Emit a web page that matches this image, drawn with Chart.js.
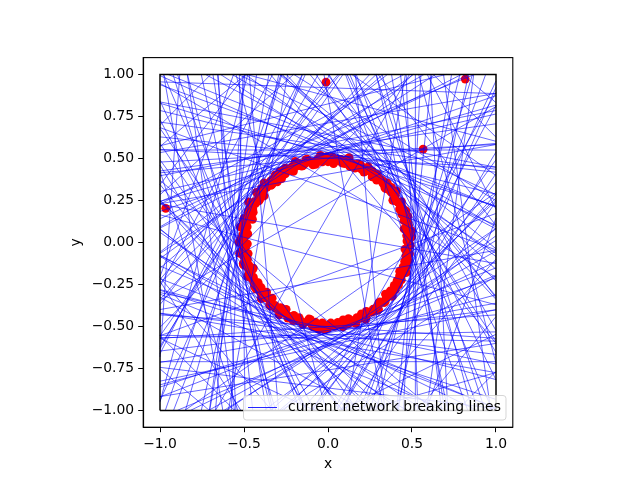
<!DOCTYPE html>
<html><head><meta charset="utf-8">
<script src="https://cdn.jsdelivr.net/npm/chart.js@4/dist/chart.umd.min.js"></script>
<style>html,body{margin:0;padding:0;background:#fff}</style>
</head><body>
<canvas id="c" width="640" height="480"></canvas>
<script>
// ---- tick labels ----
const xTicks = [-1, -0.5, 0, 0.5, 1];
const xTickLabels = ['−1.0', '−0.5', '0.0', '0.5', '1.0'];
const yTicks = [-1, -0.75, -0.5, -0.25, 0, 0.25, 0.5, 0.75, 1];
const yTickLabels = ['−1.00', '−0.75', '−0.50', '−0.25', '0.00', '0.25', '0.50', '0.75', '1.00'];

// ---- bounding square ----
const boxX = [-1, 1, 1, -1, -1];
const boxY = [-1, -1, 1, 1, -1];

// ---- isolated network nodes ----
const outlierX = [-0.966, -0.012, 0.566, 0.817];
const outlierY = [0.203, 0.954, 0.555, 0.972];

// ---- ring of network nodes (polar: angle in degrees, radius) ----
const ringAngle = [0,3,5,8,11,14,16,19,22,25,27,30,33,36,38,41,44,47,50,52,55,58,61,63,66,69,72,74,77,80,83,86,88,91,94,97,99,102,105,108,110,113,116,119,122,124,127,130,133,135,138,141,144,146,149,152,155,158,160,163,166,169,171,174,177,180,183,185,188,191,194,196,199,202,205,208,210,213,216,219,221,224,227,230,232,235,238,241,244,246,249,252,255,257,260,263,266,268,271,274,277,280,282,285,288,291,293,296,299,302,304,307,310,313,316,318,321,324,327,329,332,335,338,340,343,346,349,352,354,357];
const ringRadius = [0.48,0.49,0.47,0.50,0.48,0.49,0.47,0.48,0.50,0.47,0.49,0.48,0.46,0.49,0.48,0.50,0.47,0.48,0.49,0.47,0.48,0.50,0.49,0.47,0.48,0.50,0.49,0.47,0.51,0.48,0.50,0.47,0.49,0.51,0.48,0.50,0.47,0.49,0.51,0.48,0.50,0.49,0.47,0.50,0.48,0.51,0.49,0.47,0.50,0.48,0.49,0.51,0.47,0.50,0.48,0.49,0.51,0.48,0.50,0.47,0.52,0.49,0.51,0.48,0.50,0.53,0.49,0.51,0.48,0.50,0.52,0.49,0.47,0.51,0.49,0.50,0.48,0.51,0.49,0.47,0.50,0.48,0.51,0.49,0.50,0.48,0.47,0.50,0.49,0.51,0.48,0.50,0.49,0.47,0.51,0.50,0.48,0.52,0.49,0.50,0.48,0.51,0.49,0.47,0.50,0.48,0.49,0.51,0.47,0.49,0.48,0.50,0.47,0.49,0.48,0.46,0.49,0.48,0.47,0.49,0.48,0.47,0.46,0.48,0.49,0.47,0.48,0.49,0.47,0.48];
const ring2Angle = [1,4,7,10,12,15,18,21,24,26,29,32,35,37,40,43,45,48,51,54,56,59,62,65,67,70,73,76,78,81,84,87,90,92,95,98,101,104,106,109,112,115,117,120,123,126,128,131,134,137,140,142,145,148,151,153,156,159,162,164,167,170,173,175,178,181,184,187,189,192,195,198,200,203,206,209,211,214,217,220,223,225,228,231,234,236,239,242,245,248,250,253,256,259,261,264,267,270,272,275,278,281,284,286,289,292,295,297,300,303,306,308,311,314,317,320,322,325,328,331,333,336,339,342,344,347,350,353,355,358];
const ring2Radius = [0.47,0.50,0.48,0.46,0.49,0.48,0.50,0.47,0.49,0.48,0.50,0.47,0.49,0.51,0.48,0.47,0.50,0.49,0.48,0.50,0.47,0.49,0.51,0.48,0.50,0.47,0.49,0.52,0.48,0.50,0.49,0.51,0.48,0.50,0.52,0.49,0.47,0.51,0.49,0.48,0.52,0.50,0.48,0.51,0.49,0.47,0.51,0.50,0.48,0.52,0.50,0.49,0.52,0.48,0.50,0.53,0.49,0.51,0.48,0.52,0.50,0.53,0.49,0.51,0.52,0.48,0.50,0.53,0.51,0.49,0.52,0.50,0.48,0.52,0.50,0.49,0.51,0.48,0.50,0.52,0.49,0.47,0.51,0.50,0.48,0.52,0.49,0.51,0.48,0.50,0.49,0.51,0.47,0.50,0.48,0.52,0.49,0.51,0.48,0.50,0.49,0.47,0.50,0.48,0.51,0.49,0.47,0.50,0.48,0.49,0.50,0.48,0.47,0.49,0.48,0.50,0.47,0.49,0.48,0.47,0.49,0.48,0.50,0.47,0.48,0.49,0.47,0.48,0.46,0.49];

// ---- breaking lines (normal angle in degrees, distance from origin) ----
const lineNormalDeg = [
  0,7,12,18,23,29,34,40,46,51,57,62,68,73,79,84,90,95,101,106,112,117,123,128,134,139,145,150,156,161,167,172,178,183,189,194,200,205,211,216,222,227,233,238,244,249,255,260,266,271,277,282,288,293,299,304,310,315,321,326,332,337,343,348,354,3,65,118,188,248,302,352,
  2,9,15,20,26,31,37,43,48,54,60,66,70,76,82,87,93,98,103,109,115,120,126,131,137,142,148,153,159,164,170,175,181,186,192,197,203,208,214,219,225,230,236,241,247,252,258,263,269,274,280,285,291,296,302,307,313,318,324,329,335,340,346,351,357,
  15,38,58,88,104,132,152,176,198,220,241,263,279,296,318,340,27,142,212,286,75,165,8,100,190,270,325,55,160,245,
  45,135,225,315,50,130,230,320,
  195,10,60,100,150,230,280,330,40,120,170,255,305,80,215,350,135,20,70,290,185,5
];
const lineDist = [
  0.52,0.55,0.49,0.58,0.51,0.62,0.50,0.56,0.53,0.60,0.49,0.54,0.57,0.50,0.63,0.52,0.55,0.50,0.58,0.51,0.60,0.53,0.49,0.57,0.52,0.61,0.50,0.55,0.53,0.59,0.51,0.56,0.54,0.60,0.52,0.57,0.50,0.55,0.62,0.52,0.58,0.50,0.54,0.60,0.51,0.56,0.53,0.59,0.50,0.55,0.52,0.60,0.51,0.57,0.53,0.49,0.58,0.52,0.55,0.60,0.50,0.56,0.53,0.61,0.51,0.66,0.68,0.67,0.69,0.66,0.70,0.72,
  0.50,0.53,0.57,0.50,0.54,0.52,0.60,0.50,0.55,0.52,0.58,0.50,0.54,0.52,0.57,0.50,0.53,0.56,0.52,0.50,0.55,0.58,0.51,0.54,0.50,0.56,0.52,0.59,0.50,0.54,0.52,0.58,0.51,0.55,0.53,0.59,0.51,0.54,0.50,0.56,0.53,0.58,0.51,0.55,0.52,0.58,0.50,0.54,0.57,0.50,0.53,0.56,0.50,0.54,0.52,0.57,0.50,0.55,0.52,0.58,0.50,0.54,0.52,0.57,0.50,
  0.78,0.85,0.74,0.92,0.80,0.88,0.76,0.95,0.82,0.90,0.77,0.86,0.75,0.93,0.81,0.89,0.98,1.00,0.97,1.02,0.84,0.72,0.82,0.70,0.79,0.71,0.68,0.90,0.87,0.94,
  1.15,1.20,1.10,1.25,1.28,1.08,1.22,1.05,
  0.27,0.15,0.32,0.40,0.08,0.36,0.22,0.42,0.38,0.20,0.41,0.10,0.33,0.05,0.43,0.28,0.35,0.44,0.30,0.18,0.38,0.25
];

// ---- build tables for the library ----
const rad = Math.PI / 180;
const polar = (angles, radii) => angles.map((a, i) => ({ x: radii[i] * Math.cos(a * rad), y: radii[i] * Math.sin(a * rad) }));
const ringPts = polar(ringAngle, ringRadius).concat(polar(ring2Angle, ring2Radius));
const outlierPts = outlierX.map((x, i) => ({ x, y: outlierY[i] }));
const boxPts = boxX.map((x, i) => ({ x, y: boxY[i] }));

function clipToSquare(thDeg, d) {
  const c = Math.cos(thDeg * rad), s = Math.sin(thDeg * rad);
  const p = [d * c, d * s], u = [-s, c];
  let t0 = -10, t1 = 10;
  for (let k = 0; k < 2; k++) {
    if (Math.abs(u[k]) < 1e-9) { if (Math.abs(p[k]) > 1) return null; continue; }
    let a = (-1 - p[k]) / u[k], b = (1 - p[k]) / u[k];
    if (a > b) { const t = a; a = b; b = t; }
    t0 = Math.max(t0, a); t1 = Math.min(t1, b);
  }
  if (t0 >= t1) return null;
  return [{ x: p[0] + t0 * u[0], y: p[1] + t0 * u[1] }, { x: p[0] + t1 * u[0], y: p[1] + t1 * u[1] }];
}
const linePts = [];
lineNormalDeg.forEach((th, i) => {
  const seg = clipToSquare(th, lineDist[i]);
  if (seg) { linePts.push(seg[0], seg[1], { x: seg[1].x, y: null }); }
});

const FONT = 'DejaVu Sans';
const FS = 13.9;
const LINE_COLOR = 'rgba(0,0,255,0.75)';

const framePlugin = {
  id: 'frameAndLegend',
  afterDraw(chart) {
    const ctx = chart.ctx, a = chart.chartArea;
    ctx.save();
    ctx.strokeStyle = '#000'; ctx.lineWidth = 1.1;
    ctx.strokeRect(a.left, a.top, a.right - a.left, a.bottom - a.top);
    // legend box (lower right inside axes)
    const lx = 243.5, ly = 395.5, lw = 262.5, lh = 24.5, r = 3;
    ctx.beginPath();
    ctx.moveTo(lx + r, ly); ctx.lineTo(lx + lw - r, ly); ctx.quadraticCurveTo(lx + lw, ly, lx + lw, ly + r);
    ctx.lineTo(lx + lw, ly + lh - r); ctx.quadraticCurveTo(lx + lw, ly + lh, lx + lw - r, ly + lh);
    ctx.lineTo(lx + r, ly + lh); ctx.quadraticCurveTo(lx, ly + lh, lx, ly + lh - r);
    ctx.lineTo(lx, ly + r); ctx.quadraticCurveTo(lx, ly, lx + r, ly);
    ctx.closePath();
    ctx.fillStyle = 'rgba(255,255,255,0.8)'; ctx.fill();
    ctx.strokeStyle = 'rgba(204,204,204,0.8)'; ctx.lineWidth = 1; ctx.stroke();
    const ds = chart.data.datasets[1];
    ctx.beginPath(); ctx.moveTo(248, 407.5); ctx.lineTo(277, 407.5);
    ctx.strokeStyle = 'rgba(0,0,255,0.85)'; ctx.lineWidth = 1; ctx.stroke();
    ctx.fillStyle = '#000'; ctx.font = FS + 'px "' + FONT + '"';
    ctx.textBaseline = 'middle'; ctx.textAlign = 'left';
    ctx.fillText(ds.label, 288, 407.5);
    ctx.restore();
  }
};

new Chart(document.getElementById('c'), {
  type: 'line',
  data: {
    datasets: [
      { label: 'box', data: boxPts, borderColor: '#000', borderWidth: 1.5, pointRadius: 0, fill: false, order: 0, tension: 0 },
      { label: 'current network breaking lines', data: linePts, borderColor: LINE_COLOR, borderWidth: 0.8, pointRadius: 0, fill: false, spanGaps: false, order: 1, tension: 0 },
      { label: 'nodes', data: ringPts.concat(outlierPts), showLine: false, pointRadius: 4.4, pointBackgroundColor: '#ff0000', pointBorderWidth: 0, borderColor: 'rgba(0,0,0,0)', order: 2 }
    ]
  },
  options: {
    responsive: false, animation: false, devicePixelRatio: 1,
    layout: { padding: { left: 64, right: 127.2, top: 57.6, bottom: 4 } },
    plugins: { legend: { display: false }, tooltip: { enabled: false } },
    scales: {
      x: {
        type: 'linear', min: -1.1, max: 1.1,
        afterBuildTicks: s => { s.ticks = xTicks.map(v => ({ value: v })); },
        afterFit: s => { s.height = 48.8; },
        ticks: { autoSkip: false, maxRotation: 0, padding: 4, color: '#000', font: { family: FONT, size: FS },
          callback: v => xTickLabels[xTicks.indexOf(v)] },
        grid: { display: true, drawOnChartArea: false, drawTicks: true, tickLength: 5, color: '#000', lineWidth: 1 },
        border: { display: true, color: '#000', width: 1.1 },
        title: { display: true, text: 'x', color: '#000', font: { family: FONT, size: FS }, padding: { top: 2, bottom: 3 } }
      },
      y: {
        type: 'linear', min: -1.1, max: 1.1,
        afterBuildTicks: s => { s.ticks = yTicks.map(v => ({ value: v })); },
        afterFit: s => { s.width = 79.2; },
        ticks: { autoSkip: false, padding: 4, color: '#000', font: { family: FONT, size: FS },
          callback: v => yTickLabels[yTicks.indexOf(v)] },
        grid: { display: true, drawOnChartArea: false, drawTicks: true, tickLength: 5, color: '#000', lineWidth: 1 },
        border: { display: true, color: '#000', width: 1.1 },
        title: { display: true, text: 'y', color: '#000', font: { family: FONT, size: FS }, padding: { top: 4, bottom: 2 } }
      }
    }
  },
  plugins: [framePlugin]
});
</script>
</body></html>
